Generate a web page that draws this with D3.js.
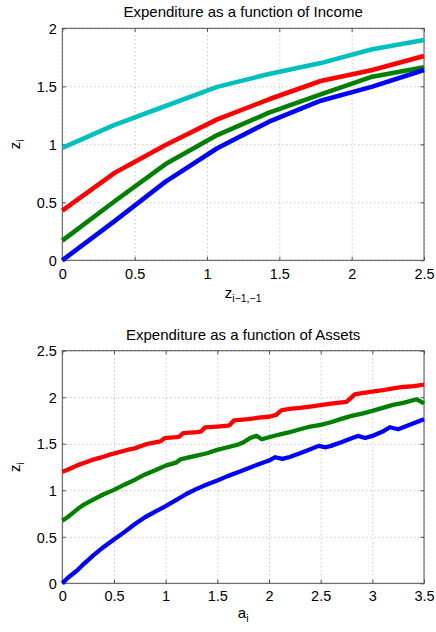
<!DOCTYPE html>
<html><head><meta charset="utf-8">
<script src="https://cdn.jsdelivr.net/npm/d3@7"></script>
<style>
html,body{margin:0;padding:0;background:#fff;}
svg{display:block;font-family:"Liberation Sans",Arial,sans-serif;}
</style></head>
<body><svg id="c" width="436" height="632"></svg>
<script>
// ---------- Data: top panel (Expenditure as a function of Income) ----------
const topX = [0, 0.357, 0.714, 1.071, 1.429, 1.786, 2.143, 2.5];
const topCyan  = [0.97, 1.166, 1.33, 1.495, 1.606, 1.70, 1.82, 1.90];
const topRed   = [0.428, 0.75, 0.994, 1.215, 1.388, 1.546, 1.64, 1.761];
const topGreen = [0.169, 0.505, 0.83, 1.08, 1.273, 1.431, 1.583, 1.664];
const topBlue  = [0.0, 0.333, 0.678, 0.966, 1.195, 1.376, 1.497, 1.64];
const topXTicks = [0, 0.5, 1, 1.5, 2, 2.5];
const topYTicks = [0, 0.5, 1, 1.5, 2];

// ---------- Data: bottom panel (Expenditure as a function of Assets) ----------
const botRedX = [0,0.05,0.1,0.15,0.2,0.25,0.3,0.35,0.4,0.45,0.5,0.55,0.6,0.65,0.7,0.75,0.8,0.85,0.9,0.95,0.99,1.1,1.13,1.17,1.3,1.34,1.38,1.5,1.6,1.62,1.66,1.8,1.9,2.0,2.07,2.12,2.2,2.3,2.4,2.5,2.6,2.75,2.83,2.9,3.0,3.1,3.2,3.3,3.4,3.5];
const botRedY = [1.20,1.22,1.245,1.27,1.29,1.31,1.33,1.345,1.36,1.38,1.395,1.41,1.425,1.44,1.45,1.47,1.49,1.505,1.515,1.525,1.56,1.57,1.575,1.615,1.625,1.63,1.675,1.685,1.695,1.70,1.75,1.765,1.78,1.79,1.81,1.86,1.875,1.885,1.90,1.915,1.93,1.95,2.03,2.045,2.06,2.075,2.095,2.11,2.12,2.135];
const botGreenX = [0,0.05,0.1,0.15,0.2,0.3,0.4,0.5,0.6,0.7,0.8,0.9,1.0,1.1,1.15,1.3,1.4,1.5,1.6,1.7,1.75,1.82,1.88,1.93,2.0,2.1,2.2,2.3,2.4,2.5,2.6,2.7,2.8,2.9,3.0,3.1,3.2,3.3,3.43,3.5];
const botGreenY = [0.674,0.71,0.755,0.80,0.84,0.90,0.957,1.004,1.06,1.112,1.17,1.215,1.265,1.297,1.335,1.373,1.398,1.434,1.462,1.491,1.513,1.563,1.584,1.548,1.57,1.599,1.624,1.656,1.685,1.703,1.731,1.767,1.80,1.824,1.853,1.885,1.918,1.939,1.978,1.935];
const botBlueX = [0,0.05,0.1,0.15,0.2,0.25,0.3,0.35,0.4,0.45,0.5,0.6,0.7,0.8,0.9,1.0,1.1,1.2,1.3,1.4,1.5,1.6,1.7,1.8,1.9,2.0,2.06,2.13,2.2,2.3,2.4,2.48,2.55,2.6,2.7,2.8,2.86,2.93,3.0,3.1,3.17,3.25,3.3,3.4,3.5];
const botBlueY = [0.0,0.055,0.1,0.145,0.2,0.25,0.3,0.345,0.39,0.43,0.47,0.55,0.635,0.71,0.77,0.83,0.895,0.96,1.015,1.062,1.104,1.152,1.194,1.237,1.28,1.319,1.355,1.337,1.358,1.398,1.441,1.477,1.462,1.477,1.516,1.559,1.584,1.562,1.584,1.631,1.677,1.656,1.677,1.72,1.763];
const botXTicks = [0, 0.5, 1, 1.5, 2, 2.5, 3, 3.5];
const botYTicks = [0, 0.5, 1, 1.5, 2, 2.5];

const titles = ["Expenditure as a function of Income", "Expenditure as a function of Assets"];

const svg = d3.select("#c");
const fmt = d => String(d);

function panel(opt) {
  const {x0, x1, y0, y1, xDom, yDom, xTicks, yTicks, series, title, xlab, xsub, lw} = opt;
  const x = d3.scaleLinear().domain(xDom).range([x0, x1]);
  const y = d3.scaleLinear().domain(yDom).range([y1, y0]);
  const g = svg.append("g");
  const w = x1 - x0, h = y1 - y0;

  // grid
  const gx = g.append("g").attr("transform", `translate(0,${y1})`)
    .call(d3.axisBottom(x).tickValues(xTicks).tickSize(-h).tickFormat(""));
  const gy = g.append("g").attr("transform", `translate(${x0},0)`)
    .call(d3.axisLeft(y).tickValues(yTicks).tickSize(-w).tickFormat(""));
  [gx, gy].forEach(a => {
    a.select(".domain").remove();
    a.selectAll("line").attr("stroke", "#a8a8a8").attr("stroke-width", 1).attr("stroke-dasharray", "1,3");
  });

  // box
  g.append("rect").attr("x", x0).attr("y", y0).attr("width", w).attr("height", h)
    .attr("fill", "none").attr("stroke", "#505050").attr("stroke-width", 1);

  // inward ticks on all sides
  const tl = 3.5;
  const ab = g.append("g").attr("transform", `translate(0,${y1})`)
    .call(d3.axisBottom(x).tickValues(xTicks).tickSize(-tl).tickFormat(fmt));
  const at = g.append("g").attr("transform", `translate(0,${y0})`)
    .call(d3.axisTop(x).tickValues(xTicks).tickSize(-tl).tickFormat(""));
  const al = g.append("g").attr("transform", `translate(${x0},0)`)
    .call(d3.axisLeft(y).tickValues(yTicks).tickSize(-tl).tickFormat(fmt));
  const ar = g.append("g").attr("transform", `translate(${x1},0)`)
    .call(d3.axisRight(y).tickValues(yTicks).tickSize(-tl).tickFormat(""));
  [ab, at, al, ar].forEach(a => {
    a.select(".domain").remove();
    a.selectAll("line").attr("stroke", "#505050");
    a.selectAll("text").attr("fill", "#000").attr("font-size", "14.5px")
      .attr("font-family", '"Liberation Sans",Arial,sans-serif');
  });
  ab.selectAll("text").attr("y", opt.xTickBase).attr("dy", null);
  al.selectAll("text").attr("x", -5.5).attr("dy", "0.36em");

  // lines
  const line = d3.line().x(d => x(d[0])).y(d => y(d[1]));
  series.forEach(s => {
    g.append("path").datum(s.xs.map((v, i) => [v, s.ys[i]]))
      .attr("d", line).attr("fill", "none").attr("stroke", s.color)
      .attr("stroke-width", lw).attr("stroke-linejoin", "round");
  });

  // title
  g.append("text").attr("x", (x0 + x1) / 2).attr("y", y0 - 11)
    .attr("text-anchor", "middle").attr("font-size", "15px").text(title);

  // x label
  const xl = g.append("text").attr("x", (x0 + x1) / 2).attr("y", opt.xLabBase)
    .attr("text-anchor", "middle").attr("font-size", "15px");
  xl.append("tspan").text(xlab);
  xl.append("tspan").attr("font-size", "10.5px").attr("dy", 4).text(xsub);

  // y label
  const yl = g.append("text")
    .attr("transform", `translate(20,${(y0 + y1) / 2}) rotate(-90)`)
    .attr("text-anchor", "middle").attr("font-size", "15px");
  yl.append("tspan").text("z");
  yl.append("tspan").attr("font-size", "10.5px").attr("dy", 4).text("i");
}

panel({
  x0: 62.3, x1: 424, y0: 28.3, y1: 260.3, xDom: [0, 2.5], yDom: [0, 2],
  xTicks: topXTicks, yTicks: topYTicks, title: titles[0], xlab: "z", xsub: "i\u22121,\u22121",
  xTickBase: 19, xLabBase: 298, lw: 4.6,
  series: [
    {xs: topX, ys: topCyan, color: "#00bfbf"},
    {xs: topX, ys: topRed, color: "#ff0000"},
    {xs: topX, ys: topGreen, color: "#008000"},
    {xs: topX, ys: topBlue, color: "#0000ff"}
  ]
});

panel({
  x0: 62.3, x1: 424, y0: 350.7, y1: 583.3, xDom: [0, 3.5], yDom: [0, 2.5],
  xTicks: botXTicks, yTicks: botYTicks, title: titles[1], xlab: "a", xsub: "i",
  xTickBase: 17.8, xLabBase: 618, lw: 4.3,
  series: [
    {xs: botRedX, ys: botRedY, color: "#ff0000"},
    {xs: botGreenX, ys: botGreenY, color: "#008000"},
    {xs: botBlueX, ys: botBlueY, color: "#0000ff"}
  ]
});
</script></body></html>
